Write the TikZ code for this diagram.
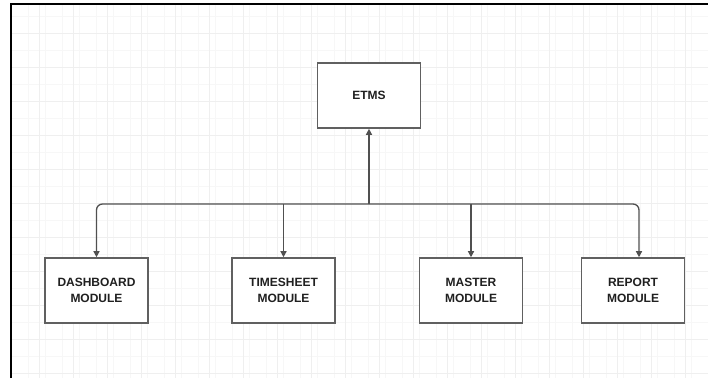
\documentclass[tikz,border=0pt]{standalone}
\usepackage{fontspec}
\setmainfont{Liberation Sans}
\usetikzlibrary{arrows.meta}
\definecolor{gridmaj}{HTML}{EFEFEF}
\definecolor{gridmin}{HTML}{F7F7F7}
\definecolor{lineg}{HTML}{505050}
\definecolor{boxg}{HTML}{606060}
\definecolor{txt}{HTML}{202020}
\begin{document}
\begin{tikzpicture}[x=1pt,y=-1pt,
  box/.style={draw=boxg, line width=1.6pt, fill=white, minimum width=103pt, minimum height=65pt, inner sep=0pt,
    font=\bfseries\fontsize{12}{16}\selectfont, text=txt, align=center},
  conn/.style={draw=lineg, line width=1.3pt, -{Triangle[length=6pt,width=6pt]}, rounded corners=6pt}]
\useasboundingbox (0,0) rectangle (708,378);
\fill[white] (0,0) rectangle (708,378);
% faint grid
\begin{scope}
\clip (11,4) rectangle (708,378);
\foreach \x in {11,28,...,708} \draw[gridmin, line width=0.6pt] (\x,4) -- (\x,378);
\foreach \y in {16,33,...,378} \draw[gridmin, line width=0.6pt] (11,\y) -- (708,\y);
\foreach \x in {39,73,...,708} \draw[gridmaj, line width=0.8pt] (\x,4) -- (\x,378);
\foreach \y in {33,67,...,378} \draw[gridmaj, line width=0.8pt] (11,\y) -- (708,\y);
\end{scope}
% frame
\draw[black, line width=1.4pt] (11,378) -- (11,4) -- (708,4);
% nodes
\node[box] (etms) at (369,95.5) {ETMS};
\node[box] (dash) at (96.5,290.5) {DASHBOARD\\MODULE};
\node[box] (time) at (283.5,290.5) {TIMESHEET\\MODULE};
\node[box] (mast) at (471,290.5) {MASTER\\MODULE};
\node[box] (rep) at (633,290.5) {REPORT\\MODULE};
\coordinate (hub) at (369,204);
\coordinate (repin) at ([xshift=6pt]rep.north);
% connectors
\draw[conn] (hub) -- (etms.south);
\draw[conn] (hub) -| (dash.north);
\draw[conn] (hub) -| (repin);
\draw[conn] (time.north |- hub) -- (time.north);
\draw[conn] (mast.north |- hub) -- (mast.north);
\end{tikzpicture}
\end{document}
